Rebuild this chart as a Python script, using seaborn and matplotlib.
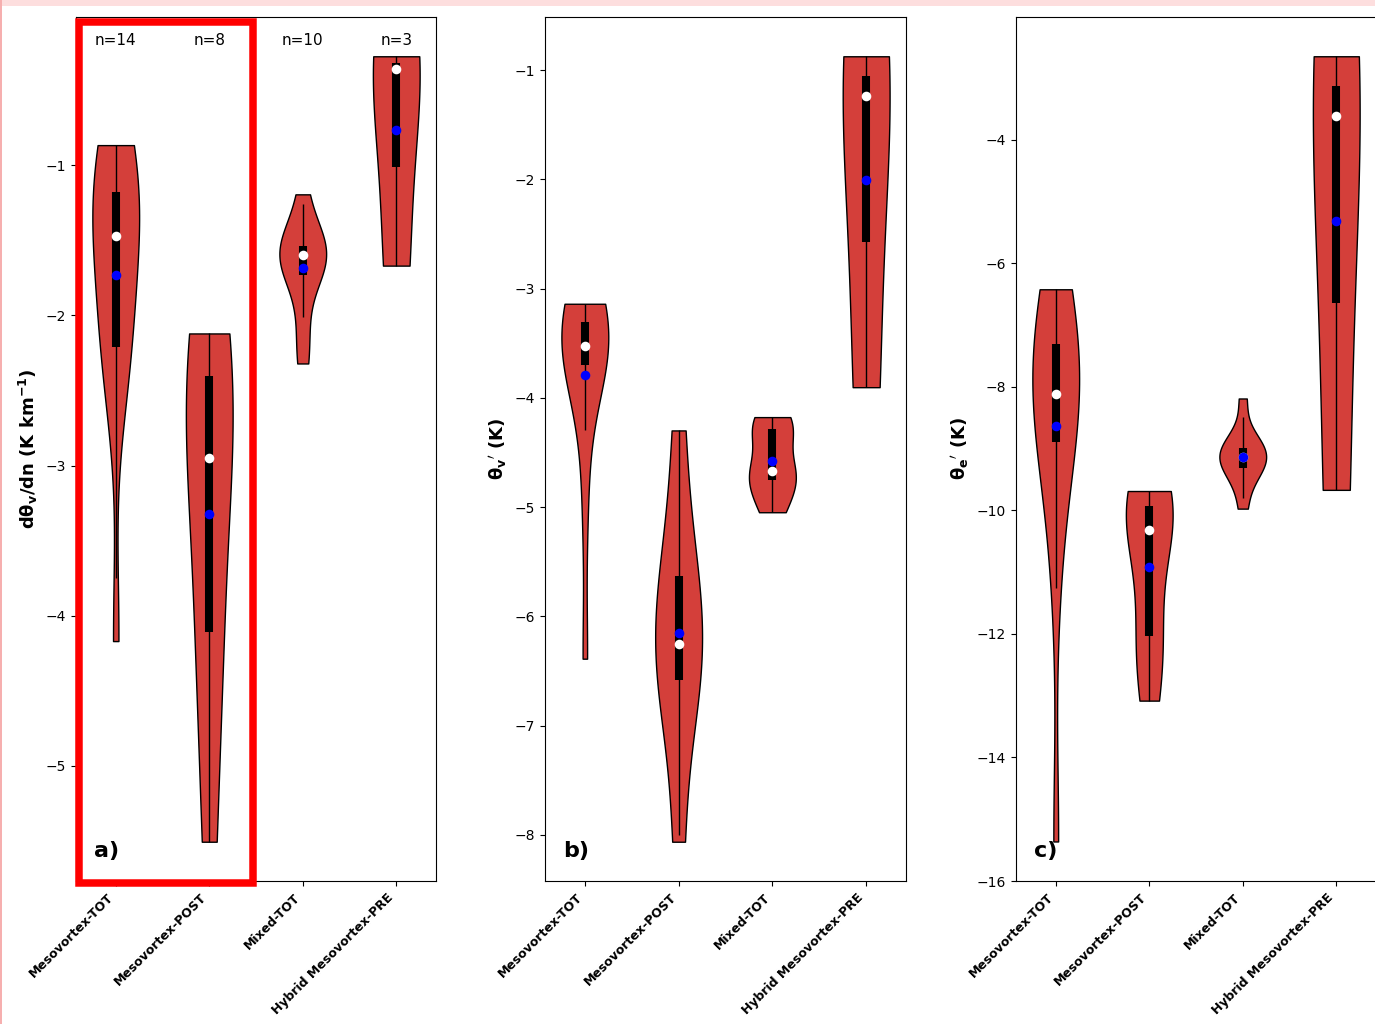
import numpy as np
import pandas as pd
import matplotlib
matplotlib.use("Agg")
import matplotlib.pyplot as plt
from matplotlib.patches import Rectangle
from matplotlib.transforms import blended_transform_factory
import seaborn as sns

plt.rcParams["mathtext.default"] = "bf"

categories = ["Mesovortex-TOT", "Mesovortex-POST", "Mixed-TOT", "Hybrid Mesovortex-PRE"]

# a) vertical gradient of virtual potential temperature, dθv/dn (K km-1)
grad_meso_tot = [-4.17, -2.35, -2.28, -2.22, -2.17, -1.66, -1.53, -1.41, -1.28,
                 -1.21, -1.167, -1.00, -0.92, -0.865]
grad_meso_post = [-5.507, -4.35, -4.026, -3.05, -2.856, -2.467, -2.20, -2.12]
grad_mixed_tot = [-2.32, -2.10, -1.75, -1.66, -1.62, -1.58, -1.56, -1.533, -1.50, -1.193]
grad_hybrid_pre = [-1.668, -0.36, -0.273]

# b) virtual potential temperature perturbation θv' (K)
thv_meso_tot = [-6.388, -5.00, -4.18, -3.75, -3.56, -3.55, -3.53, -3.52, -3.45,
                -3.33, -3.30, -3.25, -3.18, -3.138]
thv_meso_post = [-8.064, -6.72, -6.533, -6.40, -6.106, -5.70, -5.432, -4.298]
thv_mixed_tot = [-5.047, -4.95, -4.77, -4.706, -4.69, -4.64, -4.32, -4.27, -4.23, -4.176]
thv_hybrid_pre = [-3.902, -1.238, -0.872]

# c) equivalent potential temperature perturbation θe' (K)
the_meso_tot = [-15.36, -11.0, -9.66, -8.95, -8.718, -8.40, -8.20, -8.038, -7.80,
                -7.40, -7.284, -7.00, -6.70, -6.421]
the_meso_post = [-13.08, -12.20, -11.969, -10.50, -10.126, -9.95, -9.846, -9.687]
the_mixed_tot = [-9.972, -9.50, -9.33, -9.238, -9.18, -9.08, -9.02, -8.97, -8.85, -8.189]
the_hybrid_pre = [-9.668, -3.622, -2.649]

panel_a = [grad_meso_tot, grad_meso_post, grad_mixed_tot, grad_hybrid_pre]
panel_b = [thv_meso_tot, thv_meso_post, thv_mixed_tot, thv_hybrid_pre]
panel_c = [the_meso_tot, the_meso_post, the_mixed_tot, the_hybrid_pre]

ylabels = [r"d$\theta_v$/dn (K km$^{-1}$)", r"${\theta_v}'$ (K)", r"${\theta_e}'$ (K)"]
panel_tags = ["a)", "b)", "c)"]
yticks = [[-5, -4, -3, -2, -1],
          [-8, -7, -6, -5, -4, -3, -2, -1],
          [-16, -14, -12, -10, -8, -6, -4]]

VIOLIN_COLOR = "#D43F3A"
W, H = 1375, 1024
fig = plt.figure(figsize=(W / 100, H / 100), dpi=100)


def add_axes_px(left, right, top=17, bottom=881):
    return fig.add_axes([left / W, 1 - bottom / H, (right - left) / W, (bottom - top) / H])


def draw_panel(ax, groups, ylabel, ticks, tag):
    df = pd.DataFrame({
        "category": np.repeat(categories, [len(g) for g in groups]),
        "value": np.concatenate([np.asarray(g, float) for g in groups]),
    })
    sns.violinplot(data=df, x="category", y="value", order=categories,
                   color=VIOLIN_COLOR, saturation=1, inner=None, cut=0,
                   width=0.5, density_norm="width", linecolor="black",
                   linewidth=1, ax=ax)
    for i, g in enumerate(groups):
        v = np.sort(np.asarray(g, float))
        q1, med, q3 = np.percentile(v, [25, 50, 75])
        iqr = q3 - q1
        upper = np.clip(q3 + 1.5 * iqr, q3, v[-1])
        lower = np.clip(q1 - 1.5 * iqr, v[0], q1)
        ax.vlines(i, lower, upper, color="k", lw=1, zorder=3)
        ax.vlines(i, q1, q3, color="k", lw=5.8, zorder=3)
        ax.scatter(i, med, s=48, color="white", linewidths=0, zorder=4)
        ax.scatter(i, v.mean(), s=48, color="blue", linewidths=0, zorder=5)

    allv = np.concatenate([np.asarray(g, float) for g in groups])
    lo, hi = allv.min(), allv.max()
    pad = 0.05 * (hi - lo)
    ax.set_ylim(lo - pad, hi + pad)
    ax.set_xlim(-0.425, 3.425)
    ax.set_yticks(ticks)
    ax.set_xticks(range(len(categories)))
    ax.set_xticklabels(categories, rotation=45, ha="right",
                       fontweight="bold", fontsize=9)
    ax.set_xlabel("")
    ax.set_ylabel(ylabel, fontsize=13, fontweight="bold")
    ax.tick_params(axis="y", labelsize=10)
    ax.text(0.05, 0.028, tag, transform=ax.transAxes, fontsize=16,
            fontweight="bold", va="baseline", ha="left")


ax_a = add_axes_px(76, 436)
ax_b = add_axes_px(545, 906)
ax_c = add_axes_px(1016, 1376)

draw_panel(ax_a, panel_a, ylabels[0], yticks[0], panel_tags[0])
draw_panel(ax_b, panel_b, ylabels[1], yticks[1], panel_tags[1])
draw_panel(ax_c, panel_c, ylabels[2], yticks[2], panel_tags[2])

# sample sizes above each violin in panel a
trans = blended_transform_factory(ax_a.transData, ax_a.transAxes)
for i, g in enumerate(panel_a):
    ax_a.text(i, 0.973, f"n={len(g)}", transform=trans, ha="center",
              va="center", fontsize=11)

# highlight box around the mesovortex groups of panel a
fig.add_artist(Rectangle((78.7 / W, 1 - 883.3 / H), (253 - 78.7) / W,
                         (883.3 - 22.2) / H, transform=fig.transFigure,
                         fill=False, edgecolor="red", lw=5.4, zorder=10))

# thin pink frame along the top and left edges
fig.add_artist(Rectangle((0, 1 - 6 / H), 1, 6 / H, transform=fig.transFigure,
                         facecolor="#FDDEDE", edgecolor="none", zorder=0))
fig.add_artist(Rectangle((0, 0), 2 / W, 1, transform=fig.transFigure,
                         facecolor="#F6AFAF", edgecolor="none", zorder=0))

fig.savefig("out.png", dpi=100)
